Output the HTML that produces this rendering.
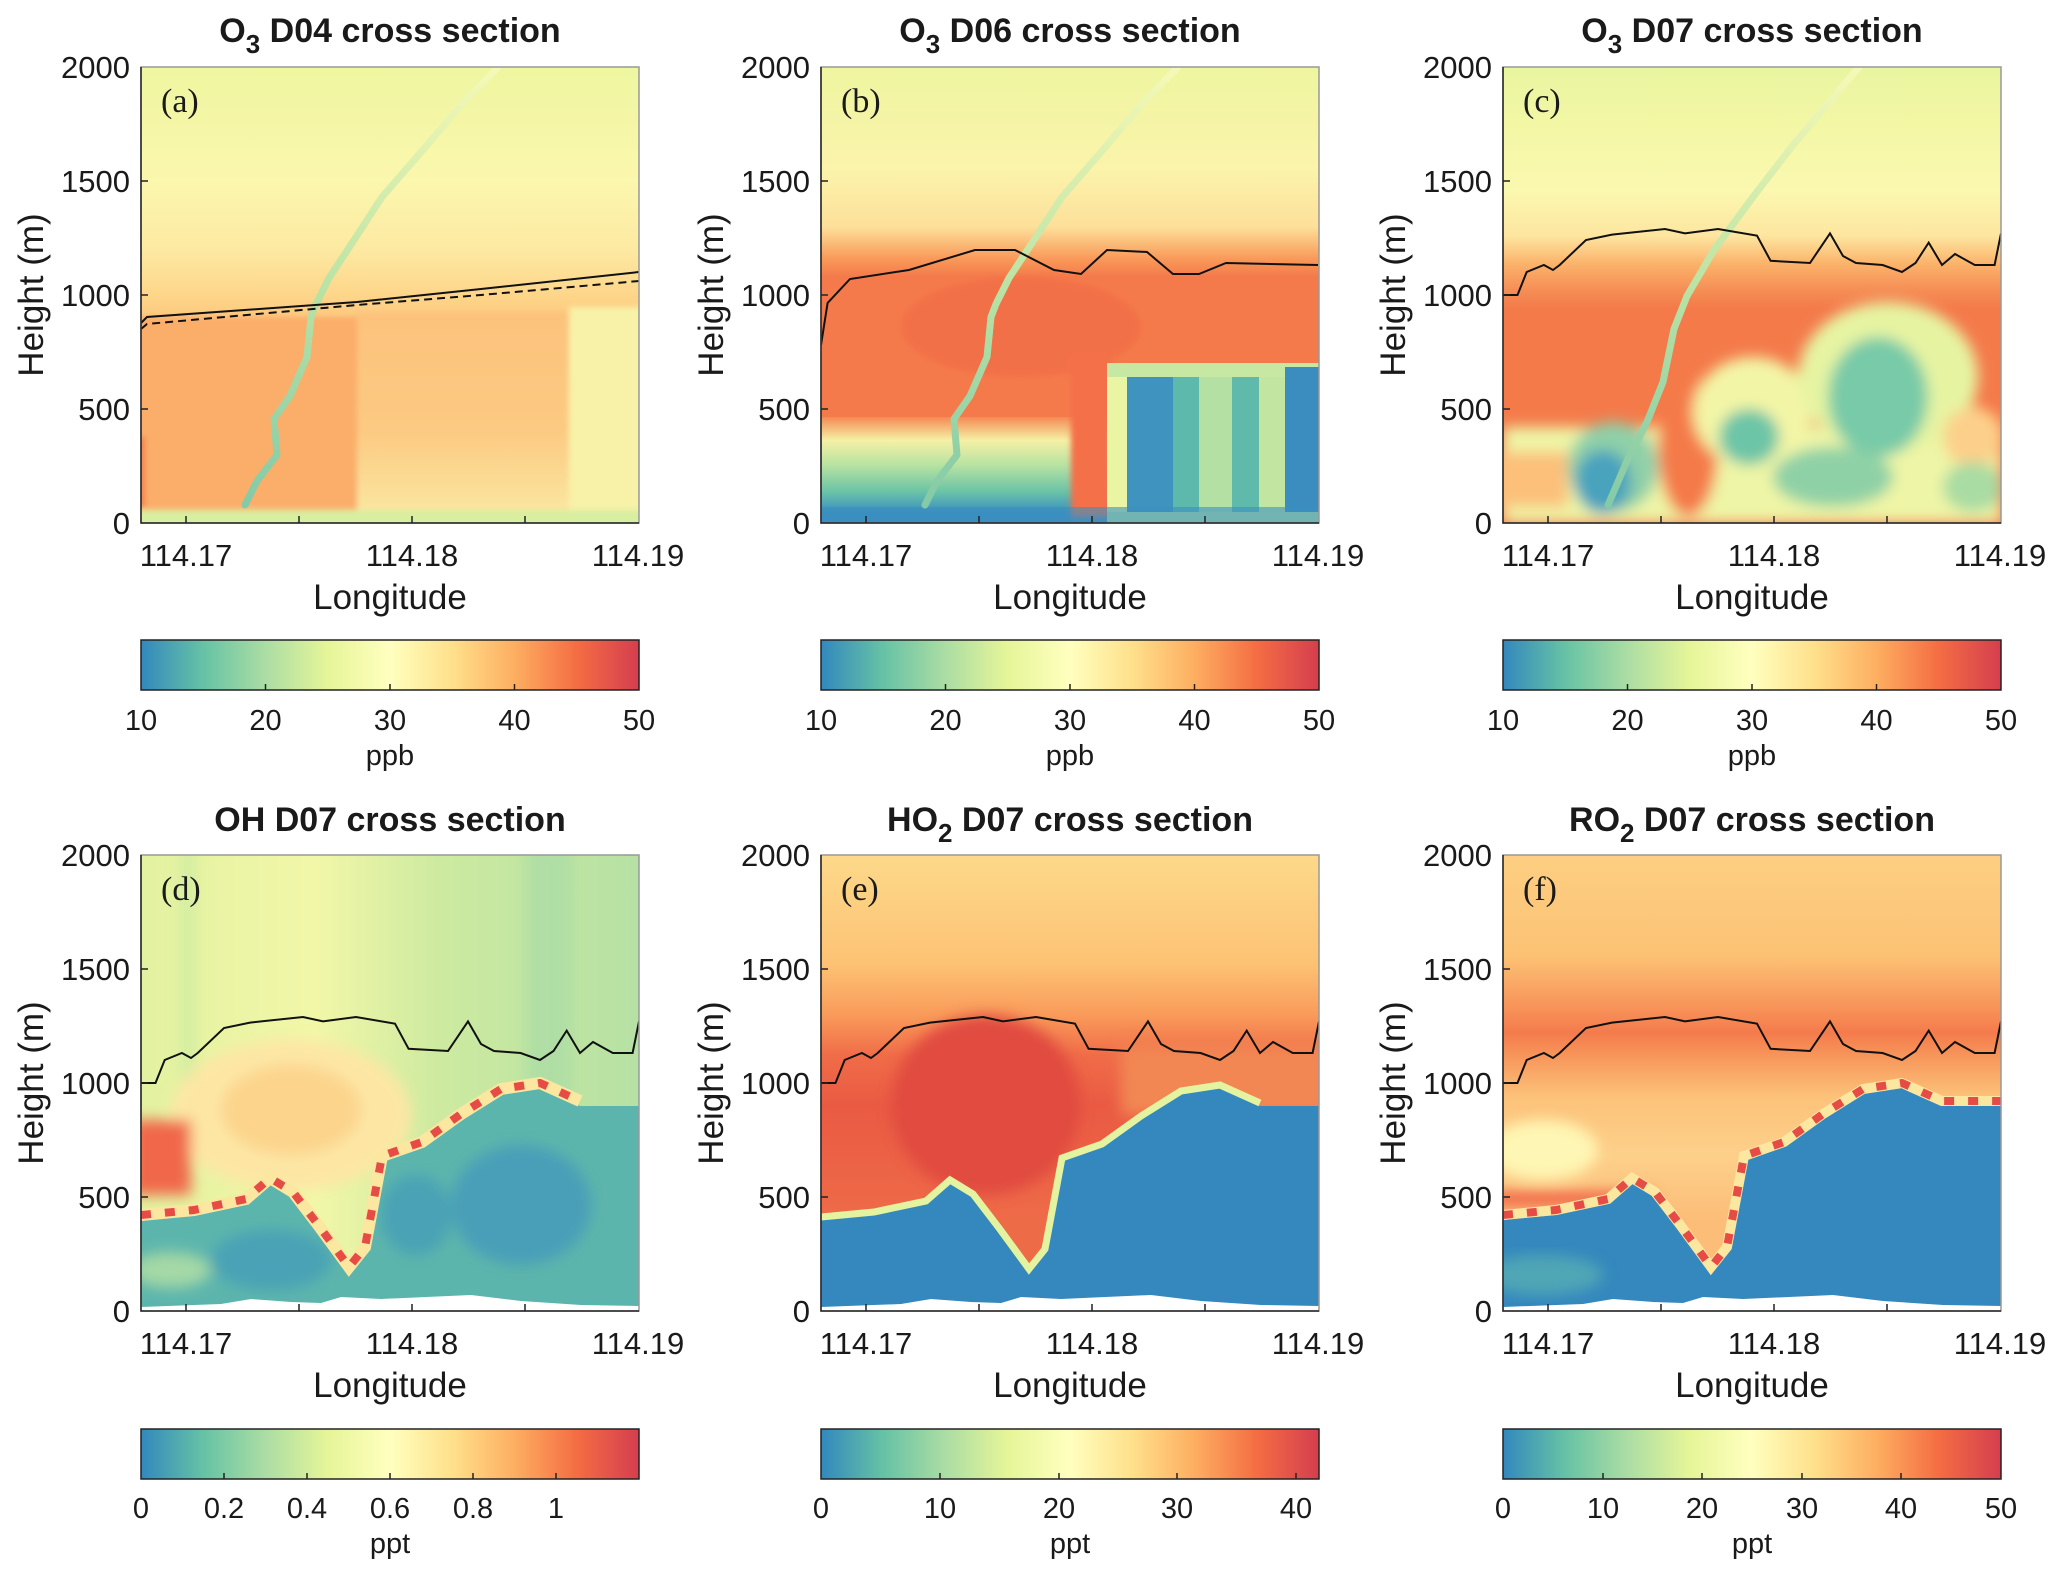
<!DOCTYPE html>
<html><head><meta charset="utf-8"><style>
html,body{margin:0;padding:0;background:#fff}
svg{display:block}
text{font-family:"Liberation Sans",Arial,sans-serif;fill:#1a1a1a}
.t{font-size:34px;font-weight:bold;text-anchor:middle}
.tk{font-size:29px}
.xt{font-size:31px}
.lab{font-size:35px;text-anchor:middle}
.pl{font-family:"Liberation Serif",serif;font-size:34px}
</style></head><body>
<svg width="2067" height="1577" viewBox="0 0 2067 1577" xmlns="http://www.w3.org/2000/svg">
<defs>
<clipPath id="cp"><rect x="0" y="0" width="498" height="456"/></clipPath>
<filter id="bl" x="-20%" y="-20%" width="140%" height="140%"><feGaussianBlur stdDeviation="7"/></filter>
<filter id="bl2" x="-20%" y="-20%" width="140%" height="140%"><feGaussianBlur stdDeviation="3"/></filter>
<linearGradient id="cmap" x1="0" x2="1" y1="0" y2="0">
<stop offset="0" stop-color="#3288bd"/><stop offset="0.125" stop-color="#66c2a5"/><stop offset="0.25" stop-color="#abdda4"/><stop offset="0.375" stop-color="#e6f598"/><stop offset="0.5" stop-color="#ffffbf"/><stop offset="0.625" stop-color="#fee08b"/><stop offset="0.75" stop-color="#fdae61"/><stop offset="0.875" stop-color="#f46d43"/><stop offset="1" stop-color="#d53e4f"/>
</linearGradient>
<linearGradient id="ga" x1="0" x2="0" y1="0" y2="456" gradientUnits="userSpaceOnUse">
<stop offset="0" stop-color="#eef6a0"/><stop offset="0.25" stop-color="#fbf7ad"/><stop offset="0.4" stop-color="#fde9a2"/><stop offset="0.5" stop-color="#fdd68a"/><stop offset="0.57" stop-color="#fcc47a"/><stop offset="1" stop-color="#fcc47a"/>
</linearGradient>
<linearGradient id="ga2" x1="0" x2="0" y1="245" y2="445" gradientUnits="userSpaceOnUse">
<stop offset="0" stop-color="#fcc27c"/><stop offset="0.6" stop-color="#fcca82"/><stop offset="1" stop-color="#fbe6a0"/>
</linearGradient>
<linearGradient id="gb" x1="0" x2="0" y1="0" y2="456" gradientUnits="userSpaceOnUse">
<stop offset="0" stop-color="#eef5a0"/><stop offset="0.22" stop-color="#fbf4ab"/><stop offset="0.35" stop-color="#fde09a"/><stop offset="0.42" stop-color="#f99a5a"/><stop offset="0.46" stop-color="#f47a4b"/><stop offset="1" stop-color="#f47a4b"/>
</linearGradient>
<linearGradient id="gb2" x1="0" x2="0" y1="350" y2="456" gradientUnits="userSpaceOnUse">
<stop offset="0" stop-color="#f58a55"/><stop offset="0.22" stop-color="#f5f0a5"/><stop offset="0.45" stop-color="#b8e3a2"/><stop offset="0.7" stop-color="#6cc4a6"/><stop offset="0.9" stop-color="#3a90c0"/><stop offset="1" stop-color="#3a90c0"/>
</linearGradient>
<linearGradient id="gc" x1="0" x2="0" y1="0" y2="456" gradientUnits="userSpaceOnUse">
<stop offset="0" stop-color="#e9f5a0"/><stop offset="0.13" stop-color="#f3f7a5"/><stop offset="0.27" stop-color="#fbf8b0"/><stop offset="0.37" stop-color="#fde6a0"/><stop offset="0.43" stop-color="#fbb46c"/><stop offset="0.49" stop-color="#f58d55"/><stop offset="0.53" stop-color="#f47a4a"/><stop offset="1" stop-color="#f47a4a"/>
</linearGradient>
<linearGradient id="gd" x1="0" x2="498" y1="0" y2="0" gradientUnits="userSpaceOnUse">
<stop offset="0" stop-color="#e2f2a0"/><stop offset="0.35" stop-color="#f2f7a8"/><stop offset="0.6" stop-color="#cdeaa0"/><stop offset="1" stop-color="#b6e1a4"/>
</linearGradient>
<linearGradient id="ge" x1="0" x2="0" y1="0" y2="456" gradientUnits="userSpaceOnUse">
<stop offset="0" stop-color="#fdd98a"/><stop offset="0.24" stop-color="#fdc274"/><stop offset="0.35" stop-color="#f99b5a"/><stop offset="0.44" stop-color="#f06c48"/><stop offset="0.55" stop-color="#ea5a43"/><stop offset="0.8" stop-color="#ee6b48"/><stop offset="1" stop-color="#ee6b48"/>
</linearGradient>
<linearGradient id="gf" x1="0" x2="0" y1="0" y2="456" gradientUnits="userSpaceOnUse">
<stop offset="0" stop-color="#fdcf82"/><stop offset="0.22" stop-color="#fcc274"/><stop offset="0.33" stop-color="#f8955a"/><stop offset="0.39" stop-color="#f47b4c"/><stop offset="0.44" stop-color="#f7955a"/><stop offset="0.53" stop-color="#fcc27a"/><stop offset="0.66" stop-color="#fdd08a"/><stop offset="0.8" stop-color="#fcbd78"/><stop offset="1" stop-color="#fcbd78"/>
</linearGradient>
<linearGradient id="traj" x1="0" x2="0" y1="456" y2="0" gradientUnits="userSpaceOnUse">
<stop offset="0" stop-color="#7fc8a8"/><stop offset="0.5" stop-color="#b8e2a4"/><stop offset="1" stop-color="#f6f9b6"/>
</linearGradient>
</defs>

<!-- ===== Panel a ===== -->
<g transform="translate(141,67)">
<g clip-path="url(#cp)">
<rect width="498" height="456" fill="url(#ga)"/>
<g filter="url(#bl2)">
<rect x="-10" y="250" width="226" height="195" fill="#fbad6a"/>
<rect x="216" y="245" width="212" height="200" fill="url(#ga2)"/>
<rect x="428" y="240" width="80" height="205" fill="#f8f2a8"/>
<rect x="-10" y="443" width="520" height="20" fill="#d8eea0"/>
<rect x="-10" y="370" width="14" height="70" fill="#f3804f"/>
</g>
<polyline points="104,438 116,414 136,388 133,352 149,329 166,290 170,250 175,237 188,211 215,170 241,130 281,84 320,38 357,0" fill="none" stroke="url(#traj)" stroke-width="7" stroke-linecap="round" stroke-linejoin="round"/>
<polyline points="0,256 6,250 216,235 340,222 498,205" fill="none" stroke="#111" stroke-width="2"/>
<polyline points="0,262 6,257 216,238 340,228 498,214" fill="none" stroke="#111" stroke-width="2" stroke-dasharray="8,5"/>
</g>
<text class="pl" x="20" y="45">(a)</text>
</g>

<!-- ===== Panel b ===== -->
<g transform="translate(821,67)">
<g clip-path="url(#cp)">
<rect width="498" height="456" fill="url(#gb)"/>
<rect x="0" y="350" width="290" height="106" fill="url(#gb2)"/>
<g filter="url(#bl2)">
<ellipse cx="200" cy="260" rx="120" ry="50" fill="#f26a45" opacity="0.6"/>
<rect x="250" y="290" width="40" height="160" fill="#f47048"/>
</g>
<rect x="286" y="296" width="212" height="160" fill="#c6e8a2"/>
<rect x="306" y="310" width="46" height="135" fill="#3f93bf"/>
<rect x="352" y="310" width="26" height="135" fill="#5db9ac"/>
<rect x="378" y="310" width="33" height="135" fill="#b5e0a3"/>
<rect x="411" y="310" width="27" height="135" fill="#5fbaab"/>
<rect x="438" y="310" width="26" height="135" fill="#c2e6a2"/>
<rect x="464" y="300" width="34" height="145" fill="#3b8dc0"/>
<rect x="286" y="310" width="20" height="135" fill="#e9f5a3"/>
<rect x="0" y="440" width="498" height="16" fill="#3b8fc0" opacity="0.6"/>
<polyline points="104,438 116,414 136,388 133,352 149,329 166,290 170,250 175,237 188,211 215,170 241,130 281,84 320,38 357,0" fill="none" stroke="url(#traj)" stroke-width="7" stroke-linecap="round" stroke-linejoin="round"/>
<polyline points="0,278 6.6,236 29,212 88,203 154,183 194,183 233,203 260,207 286,183 326,185 352,207 378,207 405,196 497,198" fill="none" stroke="#111" stroke-width="2"/>
</g>
<text class="pl" x="20" y="45">(b)</text>
</g>

<!-- ===== Panel c ===== -->
<g transform="translate(1503,67)">
<g clip-path="url(#cp)">
<rect width="498" height="456" fill="url(#gc)"/>
<g filter="url(#bl)">
<rect x="0" y="360" width="498" height="96" fill="#eef5a6"/>
<rect x="-10" y="385" width="75" height="55" fill="#fcc07a"/>
<ellipse cx="185" cy="380" rx="30" ry="70" fill="#f47a4a"/>
<ellipse cx="250" cy="345" rx="60" ry="55" fill="#f3f5a6"/>
<ellipse cx="246" cy="370" rx="30" ry="28" fill="#6dc5a7"/>
<ellipse cx="385" cy="310" rx="90" ry="75" fill="#e6f4a2"/>
<ellipse cx="375" cy="330" rx="50" ry="60" fill="#78caa8"/>
<ellipse cx="330" cy="410" rx="60" ry="30" fill="#8fd1a6"/>
<ellipse cx="110" cy="400" rx="45" ry="45" fill="#8fd0a8"/>
<ellipse cx="100" cy="415" rx="28" ry="32" fill="#4aa3bd"/>
<ellipse cx="470" cy="370" rx="30" ry="30" fill="#fcd08a"/>
<ellipse cx="470" cy="420" rx="30" ry="25" fill="#a9dca3"/>
</g>
<polyline points="105,438 124,394 144,355 160,315 171,262 184,229 211,183 250,130 290,78 356,0" fill="none" stroke="url(#traj)" stroke-width="7" stroke-linecap="round" stroke-linejoin="round"/>
<polyline points="0,228 14.5,228 23.7,205 40.9,198 50,203 56.7,198 83,173 109,167.6 162,162 182,166.4 215,162 254,168.7 267.6,193.8 307,196 327,166.4 340,189 353,196 379.6,198 399,205 412.5,196 425.7,175.6 439,198 452,187 471.8,198 491.6,198 498,166.4" fill="none" stroke="#111" stroke-width="2"/>
</g>
<text class="pl" x="20" y="45">(c)</text>
</g>

<!-- ===== Panel d ===== -->
<g transform="translate(141,855)">
<g clip-path="url(#cp)">
<rect width="498" height="456" fill="url(#gd)"/>
<g filter="url(#bl)">
<rect x="385" y="-10" width="45" height="300" fill="#a8dca5" opacity="0.7"/>
<rect x="40" y="-10" width="14" height="300" fill="#c8e9a2" opacity="0.7"/>
<ellipse cx="150" cy="260" rx="120" ry="75" fill="#fde6a4"/>
<ellipse cx="150" cy="255" rx="70" ry="45" fill="#fcd48c"/>
<rect x="-10" y="265" width="60" height="75" fill="#f06848"/>
</g>
<path d="M0,365 L53,360 105,349 129,328 152,342 178,376 208,417 224,397 241,306 281,292 320,264 360,239 399,233 439,251 498,251 L498,456 0,456 Z" fill="#5cb5ac"/>
<g filter="url(#bl)">
<ellipse cx="130" cy="405" rx="60" ry="30" fill="#4aa2b5"/>
<ellipse cx="380" cy="350" rx="70" ry="60" fill="#4a9fb8"/>
<ellipse cx="275" cy="360" rx="35" ry="40" fill="#4aa2b5"/>
<ellipse cx="30" cy="415" rx="40" ry="18" fill="#a4d8a6"/>
</g>
<path d="M0,360 L53,355 105,344 129,323 152,337 178,371 208,412 224,392 241,301 281,287 320,259 360,234 399,228 439,246" fill="none" stroke="#fbe7a0" stroke-width="12"/>
<path d="M0,360 L53,355 105,344 129,323 152,337 178,371 208,412 224,392 241,301 281,287 320,259 360,234 399,228 439,246" fill="none" stroke="#e64c45" stroke-width="8" stroke-dasharray="10,14"/>
<path d="M0,452 L80,449 110,444 150,447 180,448 200,442 240,444 330,440 380,446 440,450 498,451 L498,460 0,460 Z" fill="#fff"/>
<polyline points="0,228 14.5,228 23.7,205 40.9,198 50,203 56.7,198 83,173 109,167.6 162,162 182,166.4 215,162 254,168.7 267.6,193.8 307,196 327,166.4 340,189 353,196 379.6,198 399,205 412.5,196 425.7,175.6 439,198 452,187 471.8,198 491.6,198 498,166.4" fill="none" stroke="#111" stroke-width="2"/>
</g>
<text class="pl" x="20" y="45">(d)</text>
</g>

<!-- ===== Panel e ===== -->
<g transform="translate(821,855)">
<g clip-path="url(#cp)">
<rect width="498" height="456" fill="url(#ge)"/>
<g filter="url(#bl)">
<ellipse cx="165" cy="250" rx="95" ry="90" fill="#e14b41"/>
<rect x="300" y="190" width="210" height="70" fill="#f28752"/>
</g>
<path d="M0,365 L53,360 105,349 129,328 152,342 178,376 208,417 224,397 241,306 281,292 320,264 360,239 399,233 439,251 498,251 L498,456 0,456 Z" fill="#3488bd"/>
<path d="M0,362 L53,357 105,346 129,325 152,339 178,373 208,414 224,394 241,303 281,289 320,261 360,236 399,230 439,248" fill="none" stroke="#e3f3a0" stroke-width="7"/>
<path d="M0,452 L80,449 110,444 150,447 180,448 200,442 240,444 330,440 380,446 440,450 498,451 L498,460 0,460 Z" fill="#fff"/>
<polyline points="0,228 14.5,228 23.7,205 40.9,198 50,203 56.7,198 83,173 109,167.6 162,162 182,166.4 215,162 254,168.7 267.6,193.8 307,196 327,166.4 340,189 353,196 379.6,198 399,205 412.5,196 425.7,175.6 439,198 452,187 471.8,198 491.6,198 498,166.4" fill="none" stroke="#111" stroke-width="2"/>
</g>
<text class="pl" x="20" y="45">(e)</text>
</g>

<!-- ===== Panel f ===== -->
<g transform="translate(1503,855)">
<g clip-path="url(#cp)">
<rect width="498" height="456" fill="url(#gf)"/>
<g filter="url(#bl)">
<ellipse cx="40" cy="295" rx="55" ry="30" fill="#fef6b4"/>
<rect x="-10" y="337" width="160" height="14" fill="#f06044"/>
</g>
<path d="M0,365 L53,360 105,349 129,328 152,342 178,376 208,417 224,397 241,306 281,292 320,264 360,239 399,233 439,251 498,251 L498,456 0,456 Z" fill="#3488bd"/>
<g filter="url(#bl)"><ellipse cx="40" cy="420" rx="60" ry="20" fill="#4fa6b5"/></g>
<path d="M0,360 L53,355 105,344 129,323 152,337 178,371 208,412 224,392 241,301 281,287 320,259 360,234 399,228 439,246 498,246" fill="none" stroke="#fbe7a0" stroke-width="10"/>
<path d="M0,360 L53,355 105,344 129,323 152,337 178,371 208,412 224,392 241,301 281,287 320,259 360,234 399,228 439,246 498,246" fill="none" stroke="#e64c45" stroke-width="8" stroke-dasharray="10,14"/>
<path d="M0,452 L80,449 110,444 150,447 180,448 200,442 240,444 330,440 380,446 440,450 498,451 L498,460 0,460 Z" fill="#fff"/>
<polyline points="0,228 14.5,228 23.7,205 40.9,198 50,203 56.7,198 83,173 109,167.6 162,162 182,166.4 215,162 254,168.7 267.6,193.8 307,196 327,166.4 340,189 353,196 379.6,198 399,205 412.5,196 425.7,175.6 439,198 452,187 471.8,198 491.6,198 498,166.4" fill="none" stroke="#111" stroke-width="2"/>
</g>
<text class="pl" x="20" y="45">(f)</text>
</g>

<!-- ===== Axes frames, ticks, labels ===== -->
<g fill="none" stroke-width="1.5">
<rect x="141" y="67" width="498" height="456" stroke="#999"/>
<rect x="821" y="67" width="498" height="456" stroke="#999"/>
<rect x="1503" y="67" width="498" height="456" stroke="#999"/>
<rect x="141" y="855" width="498" height="456" stroke="#999"/>
<rect x="821" y="855" width="498" height="456" stroke="#999"/>
<rect x="1503" y="855" width="498" height="456" stroke="#999"/>
<g stroke="#222">
<path d="M141,67V523H639M821,67V523H1319M1503,67V523H2001M141,855V1311H639M821,855V1311H1319M1503,855V1311H2001"/>
<path d="M186,523v-7M299,523v-7M412,523v-7M525,523v-7M866,523v-7M979,523v-7M1092,523v-7M1205,523v-7M1548,523v-7M1661,523v-7M1774,523v-7M1887,523v-7"/>
<path d="M186,1311v-7M299,1311v-7M412,1311v-7M525,1311v-7M866,1311v-7M979,1311v-7M1092,1311v-7M1205,1311v-7M1548,1311v-7M1661,1311v-7M1774,1311v-7M1887,1311v-7"/>
<path d="M141,409h7M141,295h7M141,181h7M821,409h7M821,295h7M821,181h7M1503,409h7M1503,295h7M1503,181h7M141,1197h7M141,1083h7M141,969h7M821,1197h7M821,1083h7M821,969h7M1503,1197h7M1503,1083h7M1503,969h7"/>
</g>
</g>

<!-- titles -->
<text class="t" x="390" y="42">O<tspan dy="11" font-size="26">3</tspan><tspan dy="-11"> D04 cross section</tspan></text>
<text class="t" x="1070" y="42">O<tspan dy="11" font-size="26">3</tspan><tspan dy="-11"> D06 cross section</tspan></text>
<text class="t" x="1752" y="42">O<tspan dy="11" font-size="26">3</tspan><tspan dy="-11"> D07 cross section</tspan></text>
<text class="t" x="390" y="831">OH D07 cross section</text>
<text class="t" x="1070" y="831">HO<tspan dy="11" font-size="26">2</tspan><tspan dy="-11"> D07 cross section</tspan></text>
<text class="t" x="1752" y="831">RO<tspan dy="11" font-size="26">2</tspan><tspan dy="-11"> D07 cross section</tspan></text>

<g class="xt" text-anchor="end">
<text x="130" y="78">2000</text><text x="130" y="192">1500</text><text x="130" y="306">1000</text><text x="130" y="420">500</text><text x="130" y="534">0</text>
<text x="810" y="78">2000</text><text x="810" y="192">1500</text><text x="810" y="306">1000</text><text x="810" y="420">500</text><text x="810" y="534">0</text>
<text x="1492" y="78">2000</text><text x="1492" y="192">1500</text><text x="1492" y="306">1000</text><text x="1492" y="420">500</text><text x="1492" y="534">0</text>
<text x="130" y="866">2000</text><text x="130" y="980">1500</text><text x="130" y="1094">1000</text><text x="130" y="1208">500</text><text x="130" y="1322">0</text>
<text x="810" y="866">2000</text><text x="810" y="980">1500</text><text x="810" y="1094">1000</text><text x="810" y="1208">500</text><text x="810" y="1322">0</text>
<text x="1492" y="866">2000</text><text x="1492" y="980">1500</text><text x="1492" y="1094">1000</text><text x="1492" y="1208">500</text><text x="1492" y="1322">0</text>
</g>
<g class="xt" text-anchor="middle">
<text x="186" y="566">114.17</text><text x="412" y="566">114.18</text><text x="638" y="566">114.19</text>
<text x="866" y="566">114.17</text><text x="1092" y="566">114.18</text><text x="1318" y="566">114.19</text>
<text x="1548" y="566">114.17</text><text x="1774" y="566">114.18</text><text x="2000" y="566">114.19</text>
<text x="186" y="1354">114.17</text><text x="412" y="1354">114.18</text><text x="638" y="1354">114.19</text>
<text x="866" y="1354">114.17</text><text x="1092" y="1354">114.18</text><text x="1318" y="1354">114.19</text>
<text x="1548" y="1354">114.17</text><text x="1774" y="1354">114.18</text><text x="2000" y="1354">114.19</text>
</g>
<g class="lab">
<text x="390" y="609">Longitude</text><text x="1070" y="609">Longitude</text><text x="1752" y="609">Longitude</text>
<text x="390" y="1397">Longitude</text><text x="1070" y="1397">Longitude</text><text x="1752" y="1397">Longitude</text>
<text transform="translate(43,295) rotate(-90)">Height (m)</text>
<text transform="translate(723,295) rotate(-90)">Height (m)</text>
<text transform="translate(1405,295) rotate(-90)">Height (m)</text>
<text transform="translate(43,1083) rotate(-90)">Height (m)</text>
<text transform="translate(723,1083) rotate(-90)">Height (m)</text>
<text transform="translate(1405,1083) rotate(-90)">Height (m)</text>
</g>

<!-- colorbars -->
<g stroke="#222" stroke-width="1.5">
<rect x="141" y="640" width="498" height="50" fill="url(#cmap)"/>
<rect x="821" y="640" width="498" height="50" fill="url(#cmap)"/>
<rect x="1503" y="640" width="498" height="50" fill="url(#cmap)"/>
<rect x="141" y="1429" width="498" height="50" fill="url(#cmap)"/>
<rect x="821" y="1429" width="498" height="50" fill="url(#cmap)"/>
<rect x="1503" y="1429" width="498" height="50" fill="url(#cmap)"/>
<path d="M265.5,690v-6M390,690v-6M514.5,690v-6M945.5,690v-6M1070,690v-6M1194.5,690v-6M1627.5,690v-6M1752,690v-6M1876.5,690v-6"/>
<path d="M224,1479v-6M307,1479v-6M390,1479v-6M473,1479v-6M556,1479v-6M940,1479v-6M1059,1479v-6M1177,1479v-6M1296,1479v-6M1603,1479v-6M1702,1479v-6M1802,1479v-6M1901,1479v-6"/>
</g>
<g class="tk" text-anchor="middle">
<text x="141" y="730">10</text><text x="265.5" y="730">20</text><text x="390" y="730">30</text><text x="514.5" y="730">40</text><text x="639" y="730">50</text>
<text x="821" y="730">10</text><text x="945.5" y="730">20</text><text x="1070" y="730">30</text><text x="1194.5" y="730">40</text><text x="1319" y="730">50</text>
<text x="1503" y="730">10</text><text x="1627.5" y="730">20</text><text x="1752" y="730">30</text><text x="1876.5" y="730">40</text><text x="2001" y="730">50</text>
<text x="141" y="1518">0</text><text x="224" y="1518">0.2</text><text x="307" y="1518">0.4</text><text x="390" y="1518">0.6</text><text x="473" y="1518">0.8</text><text x="556" y="1518">1</text>
<text x="821" y="1518">0</text><text x="940" y="1518">10</text><text x="1059" y="1518">20</text><text x="1177" y="1518">30</text><text x="1296" y="1518">40</text>
<text x="1503" y="1518">0</text><text x="1603" y="1518">10</text><text x="1702" y="1518">20</text><text x="1802" y="1518">30</text><text x="1901" y="1518">40</text><text x="2001" y="1518">50</text>
</g>
<g class="tk" text-anchor="middle">
<text x="390" y="765">ppb</text><text x="1070" y="765">ppb</text><text x="1752" y="765">ppb</text>
<text x="390" y="1553">ppt</text><text x="1070" y="1553">ppt</text><text x="1752" y="1553">ppt</text>
</g>
</svg>
</body></html>
